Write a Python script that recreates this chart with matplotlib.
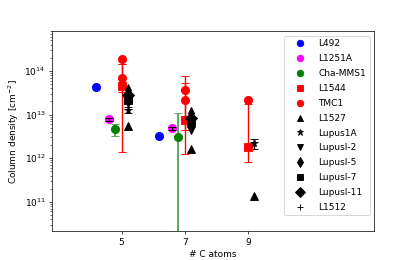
import matplotlib
matplotlib.use("Agg")
import matplotlib.pyplot as plt
import numpy as np

# ---- data ----
l492_x = [4.2, 6.2]
l492_y = [4.2e13, 3.3e12]

l1251a_x = [4.6, 6.6]
l1251a_y = [7.8e12, 4.8e12]
l1251a_lo = [7.2e12, 4.4e12]
l1251a_hi = [8.4e12, 5.2e12]

cha_x = [4.8, 6.8]
cha_y = [4.6e12, 3.1e12]
cha_lo = [3.2e12, 1.0e9]
cha_hi = [6.0e12, 1.1e13]

l1544_x = [5, 7, 9]
l1544_y = [4.5e13, 7.4e12, 1.8e12]
l1544_lo = [3.3e13, 4.4e12, 8.1e11]
l1544_hi = [1.4e14, 5.2e13, 1.7e13]

tmc1_x = [5, 5, 7, 7, 9]
tmc1_y = [1.85e14, 6.9e13, 3.7e13, 2.1e13, 2.2e13]
tmc1_err_x = [5, 7]
tmc1_err_y = [6.9e13, 2.1e13]
tmc1_err_lo = [1.35e12, 1.23e12]
tmc1_err_hi = [1.4e14, 7.6e13]

l1527_x = [5.2, 7.2, 9.2]
l1527_y = [5.4e12, 1.6e12, 1.35e11]

lupus1a_x = [5.2, 7.2, 9.2]
lupus1a_y = [1.3e13, 6.0e12, 2.2e12]
lupus1a_lo = [1.1e13, 5.2e12, 1.66e12]
lupus1a_hi = [1.5e13, 6.8e12, 2.8e12]

lupus2_x = [5.2, 7.2]
lupus2_y = [1.8e13, 4.5e12]
lupus5_x = [5.2, 7.2]
lupus5_y = [3.6e13, 1.1e13]
lupus7_x = [5.2, 7.2]
lupus7_y = [2.2e13, 7.0e12]
lupus11_x = [5.2, 7.2]
lupus11_y = [2.8e13, 8.5e12]
l1512_x = [5.2, 7.2]
l1512_y = [2.0e13, 5.5e12]

xticks = [5, 7, 9]

# ---- plot ----
fig, ax = plt.subplots(figsize=(6.4, 4.0), dpi=65)
ms = 9

def err(y, lo, hi):
    y = np.array(y); lo = np.array(lo); hi = np.array(hi)
    return [y - lo, hi - y]

ax.errorbar(l1251a_x, l1251a_y, yerr=err(l1251a_y, l1251a_lo, l1251a_hi), fmt='none',
            ecolor='black', capsize=4, elinewidth=1.5, zorder=3)
ax.errorbar(cha_x, cha_y, yerr=err(cha_y, cha_lo, cha_hi), fmt='none',
            ecolor='#4ca64c', capsize=4, elinewidth=2, zorder=1)
ax.errorbar(l1544_x, l1544_y, yerr=err(l1544_y, l1544_lo, l1544_hi), fmt='none',
            ecolor='red', capsize=4, elinewidth=1.5, zorder=1)
ax.errorbar(tmc1_err_x, tmc1_err_y, yerr=err(tmc1_err_y, tmc1_err_lo, tmc1_err_hi), fmt='none',
            ecolor='red', capsize=4, elinewidth=1.5, zorder=1)
ax.errorbar(lupus1a_x, lupus1a_y, yerr=err(lupus1a_y, lupus1a_lo, lupus1a_hi), fmt='none',
            ecolor='black', capsize=4, elinewidth=1.5, zorder=1)

ax.plot(l492_x, l492_y, 'o', color='blue', ms=ms, label='L492', zorder=2)
ax.plot(l1251a_x, l1251a_y, 'o', color='magenta', ms=ms, label='L1251A', zorder=2)
ax.plot(cha_x, cha_y, 'o', color='green', ms=ms, label='Cha-MMS1', zorder=2)
ax.plot(l1544_x, l1544_y, 's', color='red', ms=ms, label='L1544', zorder=2)
ax.plot(tmc1_x, tmc1_y, 'o', color='red', ms=ms, label='TMC1', zorder=2)
ax.plot(l1527_x, l1527_y, '^', color='black', ms=ms, label='L1527', zorder=2)
ax.plot(lupus1a_x, lupus1a_y, '*', color='black', ms=ms, label='Lupus1A', zorder=2)
ax.plot(lupus2_x, lupus2_y, 'v', color='black', ms=ms, label='LupusI-2', zorder=2)
ax.plot(lupus5_x, lupus5_y, 'd', color='black', ms=ms, label='LupusI-5', zorder=2)
ax.plot(lupus7_x, lupus7_y, 's', color='black', ms=ms, label='LupusI-7', zorder=2)
ax.plot(lupus11_x, lupus11_y, 'D', color='black', ms=ms, label='LupusI-11', zorder=2)
ax.plot(l1512_x, l1512_y, '+', color='black', ms=ms, label='L1512', zorder=2)

ax.set_yscale('log')
ax.set_xlim(2.8, 13.0)
ax.set_ylim(2.1e10, 8.1e14)
ax.set_xticks(xticks)
ax.set_xlabel('# C atoms')
ax.set_ylabel('Column density [cm$^{-2}$]')
ax.legend(loc='upper right', markerscale=0.8, labelspacing=0.65, handlelength=2.6)

fig.savefig('out.png', dpi=65)
